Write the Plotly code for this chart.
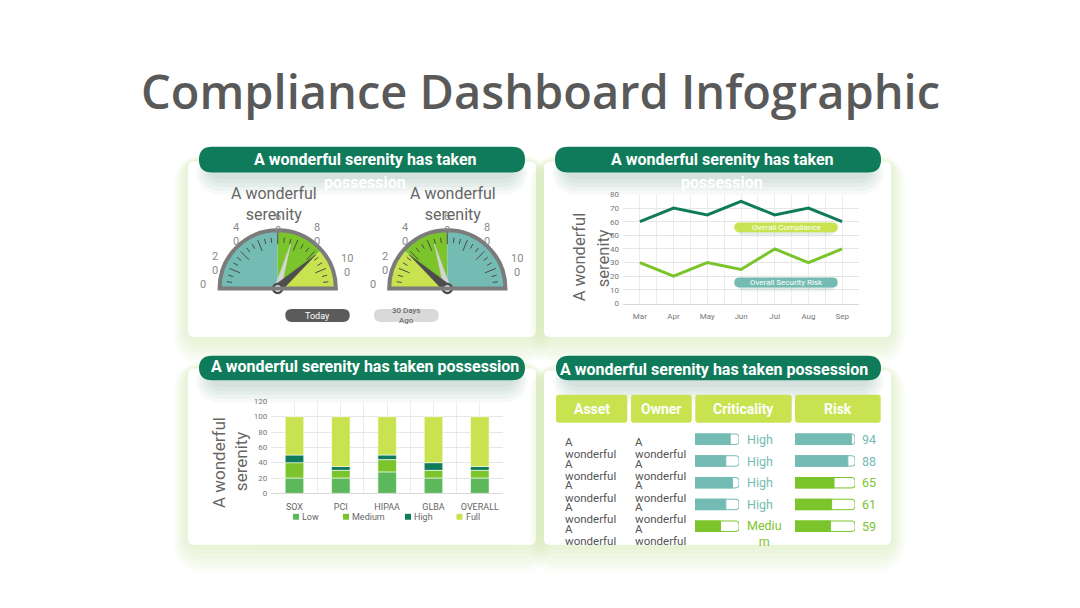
import numpy as np
import plotly.graph_objects as go

W, H = 1080, 608
def X(px): return px / W
def Y(py): return 1 - py / H

# ---------------- data ----------------
months = ["Mar", "Apr", "May", "Jun", "Jul", "Aug", "Sep"]
overall_compliance = [60, 70, 65, 75, 65, 70, 60]
overall_security_risk = [30, 20, 30, 25, 40, 30, 40]

frameworks = ["SOX", "PCI", "HIPAA", "GLBA", "OVERALL"]
low = [20, 20, 28, 20, 20]
medium = [20, 10, 16, 10, 10]
high = [10, 5, 6, 10, 5]
full = [50, 65, 50, 60, 65]

gauge_titles = ["A wonderful<br>serenity", "A wonderful<br>serenity"]
gauge_band_edges = [[0, 50, 77, 100], [0, 23, 50, 100]]
gauge_today = [77, 23]
gauge_30_days_ago = [59, 41]
gauge_tick_labels = ["0", "2<br>0", "4<br>0", "6<br>0", "8<br>0", "10<br>0"]

assets = ["A wonderful"] * 5
owners = ["A wonderful"] * 5
criticality = ["High", "High", "High", "High", "Medium"]
criticality_level = [80, 70, 85, 70, 58]
risk = [94, 88, 65, 61, 59]

header = "A wonderful serenity has taken possession"

# ---------------- colours ----------------
DARK = "#107b5b"
GREEN = "#7cc42c"
LOWG = "#5cb85a"
LIME = "#c8e34f"
TEAL = "#74bcb3"
GREY = "#666666"

fig = go.Figure()
shapes = []
annotations = []

def rr(x0, y0, x1, y1, r, fill, layer="below", lc=None, lw=0):
    rx, ry = r / W, r / H
    L, R_ = X(x0), X(x1)
    T, B = Y(y0), Y(y1)
    path = (f"M{L+rx},{T} L{R_-rx},{T} Q{R_},{T} {R_},{T-ry} L{R_},{B+ry} Q{R_},{B} {R_-rx},{B} "
            f"L{L+rx},{B} Q{L},{B} {L},{B+ry} L{L},{T-ry} Q{L},{T} {L+rx},{T} Z")
    shapes.append(dict(type="path", path=path, xref="paper", yref="paper", fillcolor=fill,
                       line=dict(width=lw, color=lc or "rgba(0,0,0,0)"), layer=layer))

def ann(x, y, text, size, color, xanchor="center", yanchor="middle", family="Roboto",
        weight="normal", angle=0):
    annotations.append(dict(x=X(x), y=Y(y), xref="paper", yref="paper", text=text, showarrow=False,
                            xanchor=xanchor, yanchor=yanchor, textangle=angle,
                            font=dict(family=family, size=size, color=color, weight=weight)))

# ---------------- cards ----------------
cards = [(188, 160, 536, 338), (544, 160, 891, 338), (188, 370, 536, 549), (544, 372, 891, 549)]
for (x0, y0, x1, y1) in cards:
    for k in range(6, 0, -1):
        e = 4 * k
        rr(x0 - e * 0.6, y0 - e * 0.3, x1 + e * 0.6, y1 + e * 1.2, 10 + e, "rgba(190,225,140,0.06)")
    rr(x0, y0, x1, y1, 6, "white")

# ---------------- header pills ----------------
pills = [(199, 145, 525, 171), (555, 145, 881, 171), (199, 357, 525, 382), (556, 357, 881, 382)]
for (x0, y0, x1, y1) in pills:
    for k in range(5, 0, -1):
        e = 3 * k
        rr(x0 + 12 - e, y0 + 6, x1 - 12 + e, y1 + 3 + e * 1.3, 12 + e, "rgba(20,110,80,0.04)")
    rr(x0, y0, x1, y1, 13, DARK)

ann(365, 158, "A wonderful serenity has taken", 16, "white", weight="bold")
ann(365, 181, "possession", 16, "white", weight="bold")
ann(722, 158, "A wonderful serenity has taken", 16, "white", weight="bold")
ann(722, 181, "possession", 16, "white", weight="bold")
ann(365, 367.5, header, 16, "white", weight="bold")
ann(558, 370.5, header, 16, "white", xanchor="left", weight="bold")

# ---------------- title ----------------
ann(540, 88, "Compliance Dashboard Infographic", 47, "#595959", family="Open Sans", weight=600)

# ---------------- gauges ----------------
gauge_centers = [(277.7, 288.7), (447.3, 288.7)]
R = 59
band_colors = [[TEAL, GREEN, LIME], [LIME, GREEN, TEAL]]
label_offsets = [(-74.7, -3.5), (-62.7, -25.5), (-42, -54.3), (0, -65.5), (39.5, -54.3), (69.5, -23.7)]

for gi in range(2):
    sub = "polar" if gi == 0 else "polar2"
    cx, cy = gauge_centers[gi]
    edges = gauge_band_edges[gi]
    for bi in range(3):
        a, b = edges[bi], edges[bi + 1]
        fig.add_trace(go.Barpolar(r=[1], theta=[(a + b) / 2 * 1.8], width=[(b - a) * 1.8],
                                  marker=dict(color=band_colors[gi][bi], line=dict(width=0)),
                                  subplot=sub, hoverinfo="skip", showlegend=False))
    # tick marks
    tr, tt = [], []
    for j in range(1, 24):
        th = j * 7.5
        if j == 12:
            r0, r1 = 0.76, 1.0
        elif j % 3 == 0:
            r0, r1 = 0.70, 0.90
        else:
            r0, r1 = 0.79, 0.88
        tr += [r0, r1, None]
        tt += [th, th, None]
    fig.add_trace(go.Scatterpolar(r=tr, theta=tt, mode="lines", line=dict(color="#4a4a4a", width=1),
                                  subplot=sub, hoverinfo="skip", showlegend=False))
    # needles
    for val, col, tip, hw in [(gauge_30_days_ago[gi], "#d5d5d5", 0.80, 0.055),
                              (gauge_today[gi], "#4d4d4d", 0.875, 0.075)]:
        th = val * 1.8
        fig.add_trace(go.Scatterpolar(r=[tip, hw, hw, tip], theta=[th, th - 90, th + 90, th],
                                      mode="lines", fill="toself", fillcolor=col,
                                      line=dict(color=col, width=0.5), subplot=sub,
                                      hoverinfo="skip", showlegend=False, cliponaxis=False))
    fig.add_trace(go.Scatterpolar(r=[0], theta=[0], mode="markers",
                                  marker=dict(size=9, color="white", line=dict(color="#4d4d4d", width=2.5)),
                                  subplot=sub, hoverinfo="skip", showlegend=False, cliponaxis=False))
    # labels
    for lab, (dx, dy) in zip(gauge_tick_labels, label_offsets):
        ann(cx + dx, cy + dy, lab, 11, "#8a8a8a")
    tx = cx - 4 if gi == 0 else cx + 5.5
    ann(tx, 203, gauge_titles[gi], 16, GREY)

polar_common = dict(sector=[0, 180], hole=0, bgcolor="rgba(0,0,0,0)",
                    angularaxis=dict(rotation=180, direction="clockwise", showline=True,
                                     linecolor="#7b7b7b", linewidth=4, showgrid=False,
                                     showticklabels=False, ticks=""),
                    radialaxis=dict(visible=False, range=[0, 1]))
polars = {}
for gi in range(2):
    cx, cy = gauge_centers[gi]
    d = dict(polar_common)
    d["domain"] = dict(x=[X(cx - R), X(cx + R)], y=[Y(cy), Y(cy - R)])
    polars["polar" if gi == 0 else "polar2"] = d

# buttons
rr(285.3, 309.5, 349.7, 322.7, 6.5, "#5b5b5b")
ann(317.5, 316.3, "Today", 9, "white")
rr(374, 309.5, 438.7, 322.7, 6.5, "#d9d9d9")
ann(406.3, 316.6, "30 Days<br>Ago", 8, "#555555")

# ---------------- line chart ----------------
xi = list(range(len(months)))
fig.add_trace(go.Scatter(x=xi, y=overall_compliance, mode="lines", line=dict(color=DARK, width=3),
                         xaxis="x", yaxis="y", hoverinfo="skip", showlegend=False))
fig.add_trace(go.Scatter(x=xi, y=overall_security_risk, mode="lines", line=dict(color=GREEN, width=3),
                         xaxis="x", yaxis="y", hoverinfo="skip", showlegend=False))
for (y0, y1, col, txt) in [(221.7, 231.7, LIME, "Overall Compliance"),
                           (277.7, 287.7, TEAL, "Overall Security Risk")]:
    for k in range(3, 0, -1):
        rr(734.3 + 2, y0 + 2, 837.7 - 2, y1 + 1.5 * k, 6 + k, "rgba(60,120,90,0.05)", layer="above")
    rr(734.3, y0, 837.7, y1, 5, col, layer="above")
    ann(786, (y0 + y1) / 2 + 0.3, txt, 8, "white")
ann(579, 257, "A wonderful", 16.5, GREY, angle=-90)
ann(603, 258, "serenity", 16.5, GREY, angle=-90)

# ---------------- stacked bar chart ----------------
fx = list(range(len(frameworks)))
series = [("Low", low, LOWG), ("Medium", medium, GREEN), ("High", high, DARK), ("Full", full, LIME)]
base = np.zeros(len(frameworks))
for name, vals, col in series:
    fig.add_trace(go.Bar(x=fx, y=vals, base=base.copy(), width=0.4, marker=dict(color=col, line=dict(width=0.6, color="white")),
                         xaxis="x2", yaxis="y2", hoverinfo="skip", showlegend=False))
    base = base + np.array(vals)
leg_x = [296, 346, 408, 459.5]
for (name, vals, col), lx in zip(series, leg_x):
    shapes.append(dict(type="rect", xref="paper", yref="paper", x0=X(lx - 3), x1=X(lx + 3),
                       y0=Y(523.5), y1=Y(517.5), fillcolor=col, line=dict(width=0)))
    ann(lx + 4, 521, name, 9, "#666666", xanchor="left")
ann(219, 466, "A wonderful", 17, GREY, angle=-90)
ann(241, 464, "serenity", 17, GREY, angle=-90)

# ---------------- table ----------------
heads = [("Asset", 556, 627.3), ("Owner", 631, 691.7), ("Criticality", 695.3, 791.7), ("Risk", 795, 880.7)]
for t, x0, x1 in heads:
    rr(x0, 396.7, x1, 425, 3, LIME)
    ann((x0 + x1) / 2, 411, t, 14, "white", weight="bold")

row_y = [441.7, 464, 486, 508, 530]
rows = list(range(len(risk)))
crit_cols = [TEAL if c == "High" else GREEN for c in criticality]
risk_cols = [TEAL if v >= 80 else GREEN for v in risk]
for xa, ya, vals, cols in [("x3", "y3", criticality_level, crit_cols), ("x4", "y4", risk, risk_cols)]:
    fig.add_trace(go.Bar(y=rows, x=[100] * len(rows), orientation="h", width=0.48,
                         marker=dict(color="white", line=dict(color=cols, width=1), cornerradius=3),
                         xaxis=xa, yaxis=ya, hoverinfo="skip", showlegend=False))
    fig.add_trace(go.Bar(y=rows, x=vals, orientation="h", width=0.48,
                         marker=dict(color=cols, line=dict(color=cols, width=1), cornerradius=2),
                         xaxis=xa, yaxis=ya, hoverinfo="skip", showlegend=False))
for i, yy in enumerate(row_y):
    ann(563, yy + 2.5, assets[i].split(" ")[0], 11.5, "#555555", xanchor="left")
    ann(563, yy + 15, assets[i].split(" ")[1], 11.5, "#555555", xanchor="left")
    ann(633, yy + 2.5, owners[i].split(" ")[0], 11.5, "#555555", xanchor="left")
    ann(633, yy + 15, owners[i].split(" ")[1], 11.5, "#555555", xanchor="left")
    c = criticality[i]
    lab = c if len(c) <= 5 else c[:5] + "<br>" + c[5:]
    ann(744.5, yy + (0 if len(c) <= 5 else 7.5), lab, 12.5, crit_cols[i], xanchor="left")
    ann(859.5, yy, str(risk[i]), 12.5, risk_cols[i], xanchor="left")

# ---------------- layout ----------------
tickf = dict(family="Roboto", size=8, color="#777777")
layout = dict(
    width=W, height=H, margin=dict(l=0, r=0, t=0, b=0),
    paper_bgcolor="white", plot_bgcolor="rgba(0,0,0,0)",
    barmode="overlay", showlegend=False,
    shapes=shapes, annotations=annotations,
    xaxis=dict(domain=[X(623), X(859)], range=[-0.5, 6.5], tickmode="array", tickvals=xi, ticktext=months,
               showgrid=False, zeroline=False, showline=True, linecolor="#d9d9d9", tickfont=tickf,
               ticklabelstandoff=5,
               minor=dict(dtick=0.5, tick0=-0.5, showgrid=True, gridcolor="#ececec", gridwidth=1),
               anchor="y", fixedrange=True),
    yaxis=dict(domain=[Y(304), Y(193.3)], range=[0, 80], dtick=10, showgrid=True, gridcolor="#e6e6e6",
               zeroline=False, tickfont=tickf, anchor="x", fixedrange=True, ticklabelstandoff=3),
    xaxis2=dict(domain=[X(271.3), X(503)], range=[-0.5, 4.5], tickmode="array", tickvals=fx,
                ticktext=frameworks, showgrid=False, zeroline=False, showline=True, linecolor="#d9d9d9",
                tickfont=dict(family="Roboto", size=9, color="#666666"), ticklabelstandoff=5,
                minor=dict(dtick=0.5, tick0=-0.5, showgrid=True, gridcolor="#ececec", gridwidth=1),
                anchor="y2", fixedrange=True),
    yaxis2=dict(domain=[Y(496.7), Y(403.3)], range=[0, 120], dtick=20, showgrid=True, gridcolor="#e6e6e6",
                zeroline=False, tickfont=tickf, anchor="x2", fixedrange=True, ticklabelstandoff=3),
    xaxis3=dict(domain=[X(695), X(739)], range=[0, 100], visible=False, anchor="y3", fixedrange=True),
    yaxis3=dict(domain=[Y(541.1), Y(430.7)], range=[4.5, -0.5], visible=False, anchor="x3", fixedrange=True),
    xaxis4=dict(domain=[X(795), X(855)], range=[0, 100], visible=False, anchor="y4", fixedrange=True),
    yaxis4=dict(domain=[Y(541.1), Y(430.7)], range=[4.5, -0.5], visible=False, anchor="x4", fixedrange=True),
)
layout.update(polars)
fig.update_layout(**layout)
fig.write_html("out.html")
